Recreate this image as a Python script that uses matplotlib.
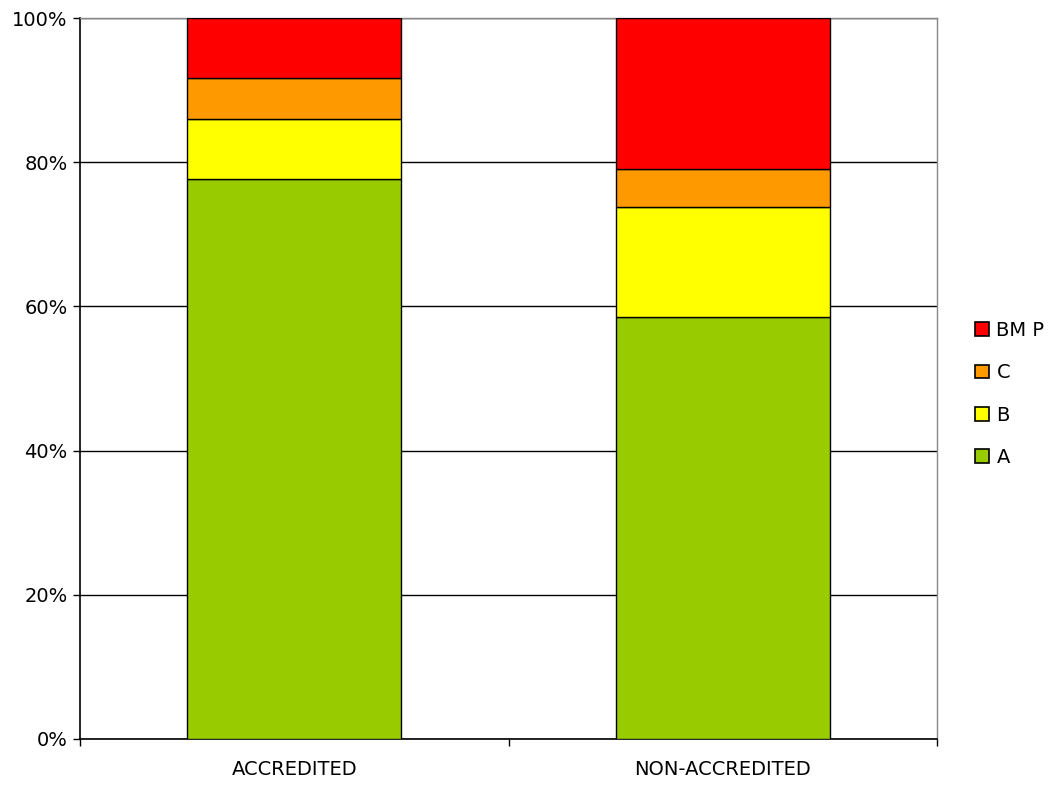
import matplotlib
matplotlib.use("Agg")
import matplotlib.pyplot as plt
from matplotlib.patches import Patch

categories = ["ACCREDITED", "NON-ACCREDITED"]
A = [77.7, 58.5]
B = [8.3, 15.3]
C = [5.7, 5.3]
BMP = [8.3, 20.9]
series_names = ["A", "B", "C", "BM P"]
series_vals = [A, B, C, BMP]
colors = ["#99CC00", "#FFFF00", "#FF9900", "#FF0000"]

fig = plt.figure(figsize=(10.49, 7.85), dpi=100)
ax = fig.add_axes([80/1049, 1-739/785, (937-80)/1049, (739-18)/785])

x = list(range(len(categories)))
bottom = [0.0] * len(categories)
handles = []
for name, vals, col in zip(series_names, series_vals, colors):
    ax.bar(x, vals, width=0.5, bottom=bottom, color=col, edgecolor="black",
           linewidth=1.0, zorder=3)
    bottom = [b + v for b, v in zip(bottom, vals)]
    handles.append(Patch(facecolor=col, edgecolor="black", linewidth=1.2, label=name))

ax.set_xlim(-0.5, len(categories) - 0.5)
ax.set_ylim(0, 100)
ax.set_yticks([0, 20, 40, 60, 80, 100])
ax.set_yticklabels([f"{v}%" for v in [0, 20, 40, 60, 80, 100]], fontsize=14)
ax.yaxis.grid(True, color="black", linewidth=1.0, zorder=0)
ax.set_axisbelow(True)

ax.set_xticks(x)
ax.set_xticklabels(categories, fontsize=14)
ax.tick_params(axis="x", which="major", length=0, pad=15)
ax.set_xticks([-0.5, 0.5, 1.5], minor=True)
ax.tick_params(axis="x", which="minor", length=5, width=1, direction="out")
ax.tick_params(axis="y", length=5, width=1, direction="out", pad=4)

for s in ["left", "bottom"]:
    ax.spines[s].set_color("black")
    ax.spines[s].set_linewidth(1.2)
for s in ["top", "right"]:
    ax.spines[s].set_color("#888888")
    ax.spines[s].set_linewidth(1.0)

leg = fig.legend(handles=handles[::-1], loc="center left",
                 bbox_to_anchor=(975/1049, 1-394/785), frameon=False,
                 fontsize=14, handlelength=0.7, handleheight=0.7,
                 handletextpad=0.4, labelspacing=1.2, borderaxespad=0,
                 borderpad=0)

fig.savefig("out.png", dpi=100)
